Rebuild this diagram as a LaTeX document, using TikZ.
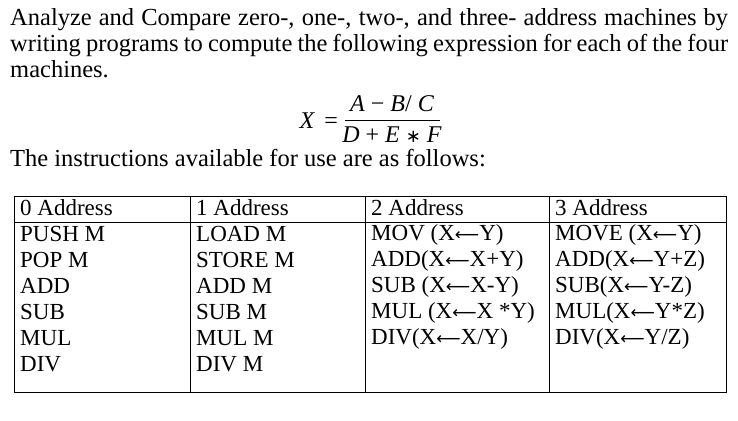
\documentclass[tikz,border=0pt]{standalone}
\usepackage{fontspec}
\setmainfont{Liberation Serif}
\newfontfamily\symf{DejaVu Sans}
\begin{document}
\begin{tikzpicture}[x=1pt,y=-1pt,
  cell/.style={anchor=west,inner sep=0pt,font=\fontsize{23}{24}\selectfont},
  mth/.style={inner sep=0pt,font=\fontsize{24}{26}\selectfont\itshape}]
\useasboundingbox (0,0) rectangle (738,420);
\node[anchor=north west,inner sep=0pt,text width=718pt,align=justify,font=\fontsize{24.5}{26}\selectfont] (para) at (10,8)
 {Analyze and Compare zero-, one-, two-, and three- address machines by writing programs to compute the following expression for each of the four machines.};
\node[mth,anchor=east] (lhs) at (338,121) {X\, \upshape=};
\node[mth] (num) at (392,104) {A \upshape−\itshape\ B\upshape/\itshape\ C};
\node[mth] (den) at (392,135) {D \upshape+\itshape\ E {\upshape\symf\fontsize{18}{20}\selectfont∗} F};
\draw[line width=0.8pt] (345,120) coordinate (fa) -- (440,120) coordinate (fb);
\node[anchor=west,inner sep=0pt,font=\fontsize{24.5}{26}\selectfont] (intro) at (10,158) {The instructions available for use are as follows:};
\draw[line width=0.8pt] (14,196) rectangle (726,392);
\draw[line width=0.8pt] (14,222) -- (726,222);
\foreach \x in {190,365,549} \draw[line width=0.8pt] (\x,196) -- (\x,392);
\def\ra{{\symf\fontsize{17}{20}\selectfont ⟵}}
\foreach \t [count=\i] in {0 Address,PUSH M,POP M,ADD,SUB,MUL,DIV}
  \node[cell] (a\i) at (20,{182+26*\i}) {\t};
\foreach \t [count=\i] in {1 Address,LOAD M,STORE M,ADD M,SUB M,MUL M,DIV M}
  \node[cell] (b\i) at (196,{182+26*\i}) {\t};
\node[cell] (c1) at (371,208) {2 Address};
\node[cell] (c2) at (371,235) {MOV (X\ra Y)};
\node[cell] (c3) at (371,261) {ADD(X\ra X+Y)};
\node[cell] (c4) at (371,287) {SUB (X\ra X-Y)};
\node[cell] (c5) at (371,313) {MUL (X\ra X *Y)};
\node[cell] (c6) at (371,339) {DIV(X\ra X/Y)};
\node[cell] (d1) at (555,208) {3 Address};
\node[cell] (d2) at (555,235) {MOVE (X\ra Y)};
\node[cell] (d3) at (555,261) {ADD(X\ra Y+Z)};
\node[cell] (d4) at (555,287) {SUB(X\ra Y-Z)};
\node[cell] (d5) at (555,313) {MUL(X\ra Y*Z)};
\node[cell] (d6) at (555,339) {DIV(X\ra Y/Z)};
\end{tikzpicture}
\end{document}
